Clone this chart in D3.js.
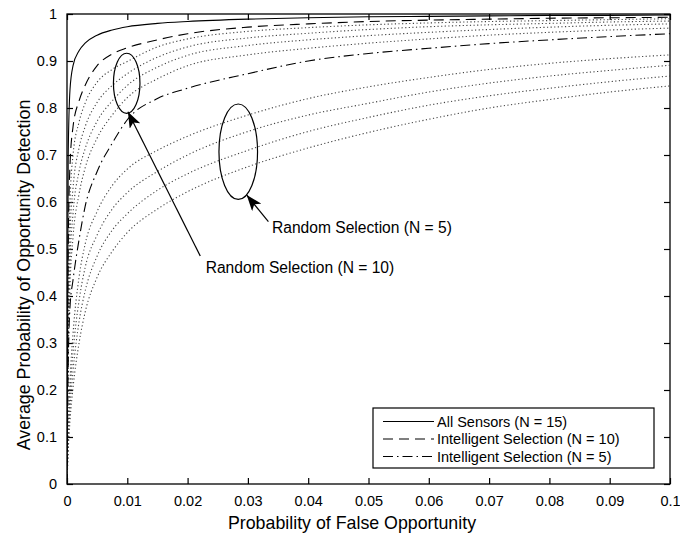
<!DOCTYPE html>
<meta charset="utf-8">
<script src="https://d3js.org/d3.v7.min.js"></script>
<style>
  body { margin: 0; background: #fff; }
  text { font-family: "Liberation Sans", Arial, sans-serif; fill: #000; }
</style>
<div id="chart"></div>
<script>
// false opportunity probability (x) shared by every curve
var pf = [0, 0.0002, 0.0005, 0.001, 0.002, 0.003, 0.005, 0.0075, 0.01, 0.015, 0.02, 0.03, 0.04, 0.05, 0.06, 0.07, 0.08, 0.09, 0.1];

var allSensors = [0, 0.70, 0.84, 0.89, 0.922, 0.938, 0.955, 0.966, 0.973, 0.98, 0.984, 0.989, 0.992, 0.994, 0.995, 0.996, 0.997, 0.997, 0.998];
var intelN10 = [0, 0.50, 0.68, 0.76, 0.815, 0.848, 0.89, 0.915, 0.928, 0.945, 0.958, 0.972, 0.979, 0.984, 0.987, 0.989, 0.991, 0.992, 0.993];
var intelN5 = [0, 0.25, 0.377, 0.434, 0.52, 0.59, 0.665, 0.725, 0.775, 0.82, 0.842, 0.873, 0.9, 0.916, 0.927, 0.937, 0.945, 0.952, 0.958];

// random selection, N = 10 (four runs)
var randN10a = [0, 0.40, 0.60, 0.70, 0.77, 0.81, 0.855, 0.882, 0.899, 0.93, 0.947, 0.963, 0.971, 0.977, 0.981, 0.984, 0.986, 0.988, 0.99];
var randN10b = [0, 0.34, 0.53, 0.63, 0.715, 0.76, 0.812, 0.848, 0.873, 0.908, 0.93, 0.949, 0.959, 0.967, 0.973, 0.977, 0.98, 0.983, 0.985];
var randN10c = [0, 0.30, 0.47, 0.575, 0.665, 0.713, 0.772, 0.815, 0.848, 0.887, 0.912, 0.933, 0.945, 0.954, 0.961, 0.967, 0.972, 0.976, 0.979];
var randN10d = [0, 0.26, 0.42, 0.525, 0.617, 0.672, 0.736, 0.785, 0.822, 0.862, 0.89, 0.913, 0.927, 0.938, 0.947, 0.955, 0.961, 0.966, 0.97];

// random selection, N = 5 (four runs)
var randN5a = [0, 0.12, 0.22, 0.32, 0.44, 0.51, 0.58, 0.635, 0.67, 0.71, 0.74, 0.785, 0.82, 0.845, 0.865, 0.882, 0.895, 0.905, 0.913];
var randN5b = [0, 0.10, 0.19, 0.28, 0.39, 0.46, 0.53, 0.585, 0.62, 0.665, 0.70, 0.75, 0.785, 0.81, 0.834, 0.853, 0.868, 0.88, 0.891];
var randN5c = [0, 0.085, 0.16, 0.24, 0.345, 0.41, 0.485, 0.54, 0.575, 0.625, 0.66, 0.71, 0.75, 0.78, 0.806, 0.826, 0.842, 0.856, 0.868];
var randN5d = [0, 0.07, 0.135, 0.205, 0.30, 0.365, 0.44, 0.495, 0.535, 0.585, 0.622, 0.675, 0.715, 0.748, 0.776, 0.8, 0.818, 0.834, 0.847];

var xTicks = [0, 0.01, 0.02, 0.03, 0.04, 0.05, 0.06, 0.07, 0.08, 0.09, 0.1];
var xTickLabels = ["0", "0.01", "0.02", "0.03", "0.04", "0.05", "0.06", "0.07", "0.08", "0.09", "0.1"];
var yTicks = [0, 0.1, 0.2, 0.3, 0.4, 0.5, 0.6, 0.7, 0.8, 0.9, 1];
var yTickLabels = ["0", "0.1", "0.2", "0.3", "0.4", "0.5", "0.6", "0.7", "0.8", "0.9", "1"];

var legendLabels = ["All Sensors (N = 15)", "Intelligent Selection (N = 10)", "Intelligent Selection (N = 5)"];

// annotations: ellipse centre / radii in data units, arrow from label to ellipse
var ellipseN10 = [0.0099, 0.8525, 0.0022, 0.064];
var ellipseN5 = [0.0284, 0.707, 0.0032, 0.1015];
var arrowN10 = [0.0221, 0.485, 0.0101, 0.792];
var arrowN5 = [0.0334, 0.558, 0.0298, 0.6149];
var labelN10 = [0.0230, 0.450, "Random Selection (N = 10)"];
var labelN5 = [0.0340, 0.535, "Random Selection (N = 5)"];

var width = 680, height = 533;
var plotL = 67, plotR = 670, plotT = 14, plotB = 484;

var x = d3.scaleLinear().domain([0, 0.1]).range([plotL, plotR]);
var y = d3.scaleLinear().domain([0, 1]).range([plotB, plotT]);

var svg = d3.select("#chart").append("svg")
  .attr("width", width)
  .attr("height", height);

svg.append("defs").append("clipPath").attr("id", "plotclip")
  .append("rect")
  .attr("x", plotL).attr("y", plotT)
  .attr("width", plotR - plotL).attr("height", plotB - plotT);

// axes, ticks point inward on all four sides
svg.append("g")
  .attr("transform", "translate(0," + plotB + ")")
  .call(d3.axisBottom(x).tickValues(xTicks).tickSizeInner(-6).tickSizeOuter(0).tickPadding(12)
    .tickFormat(function (d, i) { return xTickLabels[i]; }));
svg.append("g")
  .attr("transform", "translate(" + plotL + ",0)")
  .call(d3.axisLeft(y).tickValues(yTicks).tickSizeInner(-6).tickSizeOuter(0).tickPadding(10)
    .tickFormat(function (d, i) { return yTickLabels[i]; }));
svg.append("g")
  .attr("transform", "translate(0," + plotT + ")")
  .call(d3.axisTop(x).tickValues(xTicks).tickSizeInner(-6).tickSizeOuter(0).tickFormat(""));
svg.append("g")
  .attr("transform", "translate(" + plotR + ",0)")
  .call(d3.axisRight(y).tickValues(yTicks).tickSizeInner(-6).tickSizeOuter(0).tickFormat(""));

svg.selectAll(".domain").remove();
svg.selectAll(".tick line").attr("stroke", "#000").attr("stroke-width", 1.2);
svg.selectAll(".tick text")
  .attr("font-size", 14.5)
  .attr("font-family", "Liberation Sans, Arial, sans-serif")
  .attr("fill", "#000");

svg.append("rect")
  .attr("x", plotL).attr("y", plotT)
  .attr("width", plotR - plotL).attr("height", plotB - plotT)
  .attr("fill", "none").attr("stroke", "#000").attr("stroke-width", 1.3);

// curves
var line = d3.line()
  .x(function (d) { return x(d[0]); })
  .y(function (d) { return y(d[1]); })
  .curve(d3.curveMonotoneX);

var series = [
  { v: randN10a, dash: "1.2,2.4", col: "#444" },
  { v: randN10b, dash: "1.2,2.4", col: "#444" },
  { v: randN10c, dash: "1.2,2.4", col: "#444" },
  { v: randN10d, dash: "1.2,2.4", col: "#444" },
  { v: randN5a, dash: "1.2,2.4", col: "#444" },
  { v: randN5b, dash: "1.2,2.4", col: "#444" },
  { v: randN5c, dash: "1.2,2.4", col: "#444" },
  { v: randN5d, dash: "1.2,2.4", col: "#444" },
  { v: intelN5, dash: "10,4,1.5,4", col: "#000" },
  { v: intelN10, dash: "10,6", col: "#000" },
  { v: allSensors, dash: null, col: "#000" }
];

var plot = svg.append("g").attr("clip-path", "url(#plotclip)");
plot.selectAll("path.curve")
  .data(series)
  .enter()
  .append("path")
  .attr("class", "curve")
  .attr("d", function (s) { return line(pf.map(function (p, i) { return [p, s.v[i]]; })); })
  .attr("fill", "none")
  .attr("stroke", function (s) { return s.col; })
  .attr("stroke-width", 1.1)
  .attr("stroke-dasharray", function (s) { return s.dash; });

// ellipses
[ellipseN10, ellipseN5].forEach(function (e) {
  svg.append("ellipse")
    .attr("cx", x(e[0])).attr("cy", y(e[1]))
    .attr("rx", x(e[0] + e[2]) - x(e[0]))
    .attr("ry", y(e[1]) - y(e[1] + e[3]))
    .attr("fill", "none").attr("stroke", "#000").attr("stroke-width", 1.2);
});

// arrows
svg.select("defs").append("marker")
  .attr("id", "head")
  .attr("viewBox", "0 0 16 12")
  .attr("refX", 16).attr("refY", 6)
  .attr("markerWidth", 16).attr("markerHeight", 12)
  .attr("markerUnits", "userSpaceOnUse")
  .attr("orient", "auto")
  .append("path")
  .attr("d", "M0,0 L16,6 L0,12 L4,6 Z")
  .attr("fill", "#000");

[arrowN10, arrowN5].forEach(function (a) {
  svg.append("line")
    .attr("x1", x(a[0])).attr("y1", y(a[1]))
    .attr("x2", x(a[2])).attr("y2", y(a[3]))
    .attr("stroke", "#000").attr("stroke-width", 1.2)
    .attr("marker-end", "url(#head)");
});

[labelN10, labelN5].forEach(function (l) {
  svg.append("text")
    .attr("x", x(l[0])).attr("y", y(l[1]))
    .style("font-size", "15.6px")
    .text(l[2]);
});

// legend
var lg = svg.append("g").attr("transform", "translate(373,408)");
lg.append("rect")
  .attr("width", 281).attr("height", 60)
  .attr("fill", "#fff").attr("stroke", "#000").attr("stroke-width", 1.2);
var legendDash = [null, "10,6", "10,4,1.5,4"];
legendLabels.forEach(function (name, i) {
  var yy = 13.5 + i * 17.5;
  lg.append("line")
    .attr("x1", 10).attr("x2", 61)
    .attr("y1", yy).attr("y2", yy)
    .attr("stroke", "#000").attr("stroke-width", 1.1)
    .attr("stroke-dasharray", legendDash[i]);
  lg.append("text")
    .attr("x", 64).attr("y", yy + 5)
    .style("font-size", "14.5px")
    .text(name);
});

// axis titles
svg.append("text")
  .attr("x", 352).attr("y", 529)
  .attr("text-anchor", "middle")
  .style("font-size", "17.8px")
  .text("Probability of False Opportunity");
svg.append("text")
  .attr("transform", "translate(30,275) rotate(-90)")
  .attr("text-anchor", "middle")
  .style("font-size", "17.8px")
  .text("Average Probability of Opportunity Detection");
</script>
